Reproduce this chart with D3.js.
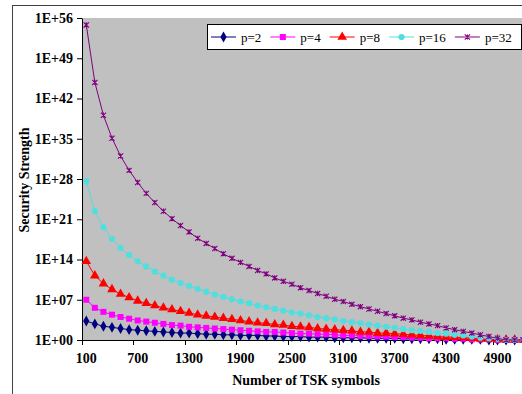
<!DOCTYPE html>
<html>
<head>
<meta charset="utf-8">
<script src="https://cdn.jsdelivr.net/npm/d3@7"></script>
<style>
  html, body { margin: 0; padding: 0; background: #fff; }
  svg { display: block; font-family: "Liberation Serif", "Times New Roman", serif; }
</style>
</head>
<body>
<svg id="chart" width="522" height="394"></svg>
<script>
// ---- data (exponents of security strength) ----
const symbols = [100, 200, 300, 400, 500, 600, 700, 800, 900, 1000,
  1100, 1200, 1300, 1400, 1500, 1600, 1700, 1800, 1900, 2000,
  2100, 2200, 2300, 2400, 2500, 2600, 2700, 2800, 2900, 3000,
  3100, 3200, 3300, 3400, 3500, 3600, 3700, 3800, 3900, 4000,
  4100, 4200, 4300, 4400, 4500, 4600, 4700, 4800, 4900, 5000,
  5100, 5200];

const p2Exp = [3.3, 2.8, 2.4, 2.2, 2.0, 1.8, 1.7, 1.6, 1.5, 1.4,
  1.3, 1.2, 1.2, 1.1, 1.0, 1.0, 0.9, 0.9, 0.8, 0.8,
  0.8, 0.7, 0.7, 0.6, 0.6, 0.6, 0.5, 0.5, 0.5, 0.4,
  0.4, 0.4, 0.4, 0.3, 0.3, 0.3, 0.3, 0.2, 0.2, 0.2,
  0.2, 0.2, 0.1, 0.1, 0.1, 0.1, 0.1, 0.0, 0.0, 0.0,
  0.0, 0.0];

const p4Exp = [7.0, 5.6, 4.9, 4.4, 4.0, 3.7, 3.4, 3.2, 3.0, 2.8,
  2.6, 2.5, 2.3, 2.2, 2.1, 2.0, 1.9, 1.8, 1.7, 1.6,
  1.5, 1.4, 1.4, 1.3, 1.2, 1.1, 1.1, 1.0, 1.0, 0.9,
  0.8, 0.8, 0.7, 0.7, 0.6, 0.6, 0.5, 0.5, 0.4, 0.4,
  0.3, 0.3, 0.3, 0.2, 0.2, 0.1, 0.1, 0.1, 0.0, 0.0,
  0.0, 0.0];

const p8Exp = [13.7, 11.2, 9.8, 8.8, 8.0, 7.4, 6.8, 6.4, 6.0, 5.6,
  5.3, 5.0, 4.7, 4.4, 4.2, 4.0, 3.8, 3.6, 3.4, 3.2,
  3.0, 2.9, 2.7, 2.6, 2.4, 2.3, 2.2, 2.0, 1.9, 1.8,
  1.7, 1.6, 1.4, 1.4, 1.2, 1.2, 1.1, 1.0, 0.9, 0.8,
  0.7, 0.6, 0.5, 0.5, 0.4, 0.3, 0.2, 0.2, 0.1, 0.0,
  0.0, 0.0];

const p16Exp = [27.6, 22.4, 19.6, 17.6, 16.0, 14.8, 13.7, 12.8, 11.9, 11.2,
  10.5, 9.9, 9.4, 8.9, 8.4, 7.9, 7.5, 7.1, 6.7, 6.4,
  6.0, 5.7, 5.4, 5.1, 4.8, 4.6, 4.3, 4.0, 3.8, 3.6,
  3.3, 3.1, 2.9, 2.7, 2.5, 2.3, 2.1, 1.9, 1.7, 1.6,
  1.4, 1.2, 1.1, 0.9, 0.8, 0.6, 0.4, 0.3, 0.2, 0.0,
  0.0, 0.0];

const p32Exp = [54.8, 44.8, 39.1, 35.1, 32.0, 29.5, 27.4, 25.5, 23.9, 22.4,
  21.1, 19.9, 18.8, 17.7, 16.8, 15.9, 15.0, 14.2, 13.5, 12.8,
  12.1, 11.5, 10.8, 10.2, 9.7, 9.1, 8.6, 8.1, 7.6, 7.1,
  6.7, 6.2, 5.8, 5.4, 5.0, 4.6, 4.2, 3.8, 3.5, 3.1,
  2.8, 2.5, 2.1, 1.8, 1.5, 1.2, 0.9, 0.6, 0.3, 0.0,
  0.0, 0.0];

const seriesNames = ["p=2", "p=4", "p=8", "p=16", "p=32"];
const yTickExps = [0, 7, 14, 21, 28, 35, 42, 49, 56];
const xLabelEvery = 6;

// ---- layout ----
const WIDTH = 522, HEIGHT = 394;
const PLOT = { left: 82, top: 18, right: 527.5, bottom: 340 };

const svg = d3.select("#chart");

// chart area border
svg.append("rect")
  .attr("x", 12.5).attr("y", 5.5)
  .attr("width", WIDTH + 20).attr("height", HEIGHT + 20)
  .attr("fill", "#fff").attr("stroke", "#404040").attr("stroke-width", 1);

// plot area
svg.append("rect")
  .attr("x", PLOT.left).attr("y", PLOT.top)
  .attr("width", PLOT.right - PLOT.left).attr("height", PLOT.bottom - PLOT.top)
  .attr("fill", "#c0c0c0");

// ---- scales ----
const x = d3.scaleBand()
  .domain(symbols)
  .range([PLOT.left, PLOT.right]);
const bw = x.bandwidth();
const cx = d => x(d) + bw / 2;

const y = d3.scaleLog()
  .domain([1, 1e56])
  .range([PLOT.bottom, PLOT.top]);

// ---- y axis ----
const yAxis = d3.axisLeft(y)
  .tickValues(yTickExps.map(e => Math.pow(10, e)))
  .tickFormat(d => "1E+" + String(Math.round(Math.log10(d))).padStart(2, "0"))
  .tickSize(5)
  .tickSizeOuter(0)
  .tickPadding(4);

const gy = svg.append("g")
  .attr("transform", `translate(${PLOT.left},0)`)
  .call(yAxis);
gy.select(".domain").attr("stroke", "#000");
gy.selectAll(".tick line").attr("stroke", "#000");
gy.selectAll(".tick text")
  .attr("fill", "#000")
  .style("font-size", "14px")
  .style("font-weight", "bold")
  .style("font-family", "'Liberation Serif', 'Times New Roman', serif");

// ---- x axis ----
const labelled = symbols.filter((d, i) => i % xLabelEvery === 0 && d <= 4900);

svg.append("line")
  .attr("x1", PLOT.left).attr("x2", PLOT.right)
  .attr("y1", PLOT.bottom + 0.5).attr("y2", PLOT.bottom + 0.5)
  .attr("stroke", "#000");

svg.append("g").selectAll("line")
  .data(labelled)
  .join("line")
  .attr("x1", d => Math.round(x(d)) + 0.5)
  .attr("x2", d => Math.round(x(d)) + 0.5)
  .attr("y1", PLOT.bottom)
  .attr("y2", PLOT.bottom + 5)
  .attr("stroke", "#000");

svg.append("g").selectAll("text")
  .data(labelled)
  .join("text")
  .attr("x", d => cx(d))
  .attr("y", 363)
  .attr("text-anchor", "middle")
  .style("font-size", "14px")
  .style("font-weight", "bold")
  .text(d => d);

// axis titles
svg.append("text")
  .attr("x", 306).attr("y", 385)
  .attr("text-anchor", "middle")
  .style("font-size", "14px")
  .style("font-weight", "bold")
  .text("Number of TSK symbols");

svg.append("text")
  .attr("transform", "translate(29,180) rotate(-90)")
  .attr("text-anchor", "middle")
  .style("font-size", "14px")
  .style("font-weight", "bold")
  .text("Security Strength");

// ---- series ----
const star = s => `M${-s},${-s}L${s},${s}M${-s},${s}L${s},${-s}M0,${-s}L0,${s}`;

const series = [
  { name: seriesNames[0], exps: p2Exp, color: "#000080", marker: "diamond" },
  { name: seriesNames[1], exps: p4Exp, color: "#ff00ff", marker: "square" },
  { name: seriesNames[2], exps: p8Exp, color: "#ff0000", marker: "triangle" },
  { name: seriesNames[3], exps: p16Exp, color: "#50dede", marker: "circle" },
  { name: seriesNames[4], exps: p32Exp, color: "#800080", marker: "star" }
];

function drawMarker(sel, kind, color) {
  if (kind === "star") {
    sel.append("path").attr("d", star(2.6)).attr("fill", "none")
      .attr("stroke", color).attr("stroke-width", 1.1);
    return;
  }
  const types = {
    diamond: [d3.symbolDiamond, 34],
    square: [d3.symbolSquare, 36],
    triangle: [d3.symbolTriangle, 40],
    circle: [d3.symbolCircle, 30]
  };
  const [t, size] = types[kind];
  sel.append("path").attr("d", d3.symbol(t, size)()).attr("fill", color);
}

const line = d3.line()
  .x(d => cx(d.n))
  .y(d => y(Math.pow(10, d.e)));

series.forEach(s => {
  const pts = symbols.map((n, i) => ({ n, e: s.exps[i] }));
  const g = svg.append("g");
  g.append("path")
    .datum(pts)
    .attr("d", line)
    .attr("fill", "none")
    .attr("stroke", s.color)
    .attr("stroke-width", 1);
  g.selectAll("g.pt")
    .data(pts)
    .join("g")
    .attr("class", "pt")
    .attr("transform", d => `translate(${cx(d.n)},${y(Math.pow(10, d.e))})`)
    .each(function () { drawMarker(d3.select(this), s.marker, s.color); });
});

// ---- legend ----
const legend = svg.append("g");
legend.append("rect")
  .attr("x", 207.5).attr("y", 24.5)
  .attr("width", 314).attr("height", 25)
  .attr("fill", "#fff").attr("stroke", "#000");

let lx = 211;
series.forEach(s => {
  const g = legend.append("g").attr("transform", `translate(${lx},37)`);
  g.append("line").attr("x1", 0).attr("x2", 25).attr("y1", 0).attr("y2", 0)
    .attr("stroke", s.color).attr("stroke-width", 1);
  const m = g.append("g").attr("transform", "translate(12.5,0)");
  drawMarker(m, s.marker, s.color);
  const t = g.append("text")
    .attr("x", 30).attr("y", 5)
    .style("font-size", "13px")
    .text(s.name);
  lx += 30 + t.node().getComputedTextLength() + 9;
});
</script>
</body>
</html>
